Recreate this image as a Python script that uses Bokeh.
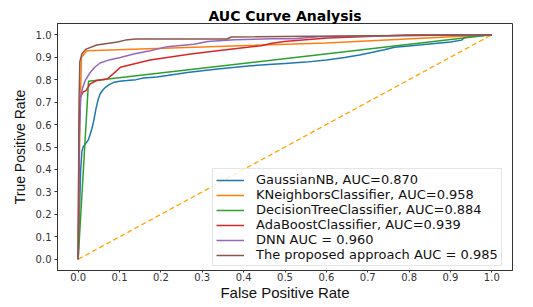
from bokeh.plotting import figure
from bokeh.models import Range1d, FixedTicker, PrintfTickFormatter
from bokeh.embed import file_html
from bokeh.resources import INLINE

# ---- data ----
gnb_fpr = [0, 0.003, 0.006, 0.009, 0.012, 0.018, 0.024, 0.028, 0.033, 0.038, 0.043, 0.048,
           0.053, 0.06, 0.066, 0.075, 0.086, 0.1, 0.118, 0.14, 0.158, 0.19, 0.215, 0.24,
           0.264, 0.3, 0.337, 0.38, 0.418, 0.46, 0.5, 0.55, 0.6, 0.644, 0.68, 0.709, 0.74,
           0.765, 0.806, 0.83, 0.862, 0.9, 0.927, 0.935, 0.97, 1.0]
gnb_tpr = [0, 0.2, 0.4, 0.48, 0.5, 0.515, 0.53, 0.55, 0.58, 0.62, 0.67, 0.71,
           0.736, 0.755, 0.766, 0.778, 0.788, 0.793, 0.796, 0.8, 0.807, 0.812, 0.818, 0.825,
           0.832, 0.84, 0.847, 0.855, 0.862, 0.867, 0.872, 0.878, 0.887, 0.899, 0.91, 0.921, 0.933,
           0.944, 0.951, 0.955, 0.961, 0.968, 0.976, 0.99, 0.995, 1.0]

knn_fpr = [0, 0.004, 0.008, 0.021, 0.6, 1.0]
knn_tpr = [0, 0.6, 0.9, 0.929, 0.963, 1.0]

dt_fpr = [0, 0.025, 1.0]
dt_tpr = [0, 0.793, 1.0]

ada_fpr = [0, 0.002, 0.005, 0.012, 0.019, 0.029, 0.045, 0.07, 0.086, 0.102, 0.134, 0.174,
           0.215, 0.272, 0.337, 0.409, 0.442, 0.466, 0.498, 0.55, 0.604, 0.7, 0.798, 1.0]
ada_tpr = [0, 0.6, 0.72, 0.745, 0.751, 0.781, 0.796, 0.803, 0.828, 0.855, 0.87, 0.887,
           0.899, 0.914, 0.929, 0.944, 0.951, 0.961, 0.97, 0.978, 0.985, 0.992, 0.999, 1.0]

dnn_fpr = [0, 0.003, 0.006, 0.01, 0.017, 0.029, 0.04, 0.053, 0.077, 0.102, 0.134, 0.174,
           0.215, 0.28, 0.313, 0.377, 0.466, 0.523, 0.58, 0.75, 1.0]
dnn_tpr = [0, 0.55, 0.72, 0.759, 0.796, 0.832, 0.855, 0.874, 0.889, 0.899, 0.914, 0.929,
           0.947, 0.958, 0.97, 0.978, 0.982, 0.982, 0.991, 0.995, 1.0]

prop_fpr = [0, 0.002, 0.004, 0.009, 0.019, 0.045, 0.07, 0.095, 0.114, 0.14, 0.36, 0.37, 0.92, 1.0]
prop_tpr = [0, 0.7, 0.88, 0.915, 0.936, 0.954, 0.961, 0.968, 0.976, 0.981, 0.981, 0.99, 0.999, 1.0]

chance = [0, 1]

labels = ["GaussianNB, AUC=0.870", "KNeighborsClassifier, AUC=0.958",
          "DecisionTreeClassifier, AUC=0.884", "AdaBoostClassifier, AUC=0.939",
          "DNN AUC = 0.960", "The proposed approach AUC = 0.985"]
colors = ["#1f77b4", "#ff7f0e", "#2ca02c", "#d62728", "#9467bd", "#8c564b"]
ticks = [0.0, 0.1, 0.2, 0.3, 0.4, 0.5, 0.6, 0.7, 0.8, 0.9, 1.0]

p = figure(width=533, height=307, x_range=Range1d(-0.05, 1.05), y_range=Range1d(-0.05, 1.05),
           output_backend="svg", toolbar_location=None,
           min_border_left=57, min_border_right=21, min_border_top=23, min_border_bottom=37,
           title="AUC Curve Analysis")

p.title.text_font = "DejaVu Sans"
p.title.text_font_size = "14px"
p.title.text_font_style = "bold"
p.title.align = "center"
p.title.standoff = 0
p.title.text_color = "#000000"

p.xgrid.visible = False
p.ygrid.visible = False
p.outline_line_color = "#333333"
p.outline_line_width = 1
p.outline_line_alpha = 1

p.line(chance, chance, line_color="#ffa500", line_dash="5 3", line_width=1.3)

series = [(gnb_fpr, gnb_tpr), (knn_fpr, knn_tpr), (dt_fpr, dt_tpr),
          (ada_fpr, ada_tpr), (dnn_fpr, dnn_tpr), (prop_fpr, prop_tpr)]
for (xs, ys), lab, c in zip(series, labels, colors):
    p.line(xs, ys, line_color=c, line_width=1.5, legend_label=lab)

for ax in (p.xaxis[0], p.yaxis[0]):
    ax.ticker = FixedTicker(ticks=ticks)
    ax.formatter = PrintfTickFormatter(format="%.1f")
    ax.major_label_text_font = "DejaVu Sans"
    ax.major_label_text_font_size = "10px"
    ax.major_label_text_color = "#333333"
    ax.major_tick_in = 0
    ax.minor_tick_out = 0
    ax.minor_tick_in = 0
    ax.axis_line_color = "#333333"
    ax.major_tick_line_color = "#333333"
    ax.axis_label_text_font = "Liberation Sans"
    ax.axis_label_text_font_style = "normal"
    ax.axis_label_text_color = "#111111"

p.yaxis.major_tick_out = 3
p.yaxis.major_label_standoff = 3
p.xaxis.major_tick_out = 2
p.xaxis.major_label_standoff = 0

p.yaxis.axis_label = "True Positive Rate"
p.yaxis.axis_label_text_font_size = "14px"
p.yaxis.axis_label_standoff = 5

p.xaxis.axis_label = "False Positive Rate"
p.xaxis.axis_label_text_font_size = "15px"
p.xaxis.axis_label_standoff = 0

lg = p.legend[0]
lg.location = (155, 4)
lg.margin = 0
lg.padding = 3
lg.spacing = 0
lg.label_height = 14
lg.glyph_height = 14
lg.glyph_width = 28
lg.label_standoff = 12
lg.label_text_font = "DejaVu Sans"
lg.label_text_font_size = "13px"
lg.label_text_color = "#111111"
lg.border_line_color = "#cccccc"
lg.border_line_width = 1
lg.background_fill_alpha = 0.8

open("out.html", "w").write(file_html(p, INLINE))
